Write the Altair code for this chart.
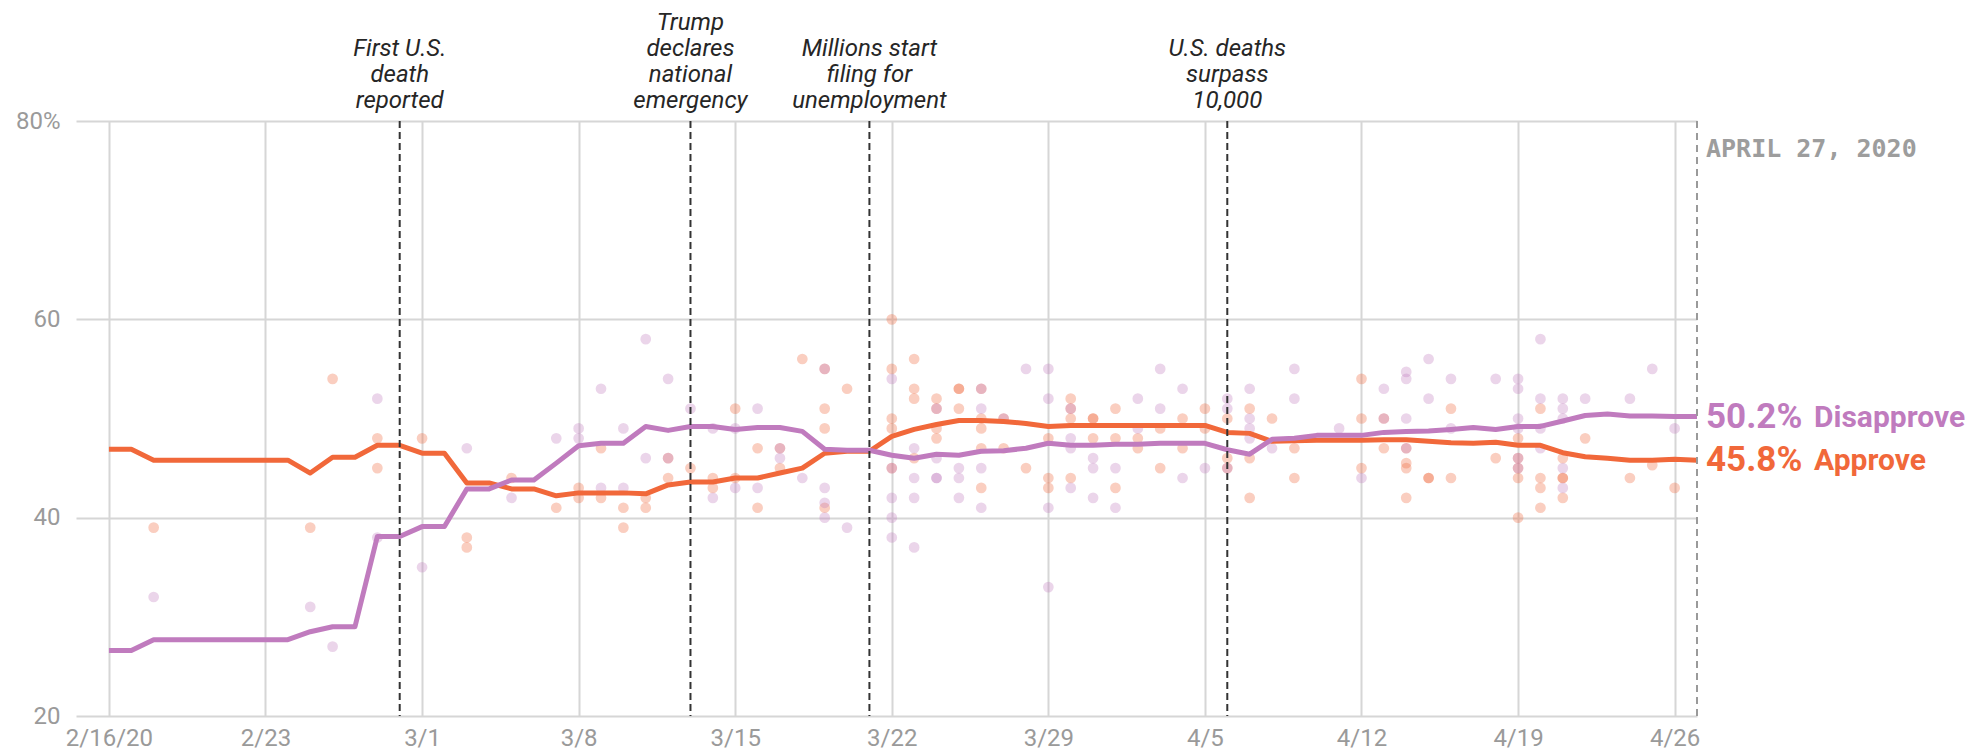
import altair as alt
import pandas as pd

# ---------------- data ----------------
line_dates = pd.date_range("2020-02-16", "2020-04-27").strftime("%Y-%m-%d").tolist()

approve_line = [
    46.9, 46.9, 45.8, 45.8, 45.8, 45.8, 45.8, 45.8, 45.8, 44.5, 46.1, 46.1, 47.3, 47.3,
    46.5, 46.5, 43.5, 43.5, 42.9, 42.9, 42.2, 42.5, 42.5, 42.5, 42.4, 43.3, 43.6, 43.6,
    44.0, 44.0, 44.5, 45.0, 46.5, 46.7, 46.7, 48.2, 48.9, 49.4, 49.8, 49.8, 49.7, 49.5,
    49.2, 49.3, 49.3,
    49.3, 49.3, 49.3, 49.3, 49.3, 48.6, 48.5, 47.7, 47.75, 47.8, 47.8, 47.8, 47.85, 47.85,
    47.7, 47.55, 47.5, 47.6, 47.3, 47.3, 46.55, 46.15, 46.0, 45.8, 45.8, 45.9, 45.8,
]
disapprove_line = [
    26.6, 26.6, 27.7, 27.7, 27.7, 27.7, 27.7, 27.7, 27.7, 28.5, 29.0, 29.0, 38.1, 38.1,
    39.1, 39.1, 42.9, 42.9, 43.8, 43.8, 45.5, 47.25, 47.5, 47.5, 49.2, 48.8, 49.2, 49.2,
    48.9, 49.1, 49.1, 48.7, 46.9, 46.8, 46.8, 46.3, 46.0, 46.4, 46.3, 46.7, 46.75, 47.0,
    47.5, 47.3, 47.3,
    47.4, 47.4, 47.5, 47.5, 47.5, 46.85, 46.4, 47.9, 48.0, 48.3, 48.3, 48.3, 48.6, 48.7,
    48.75, 48.9, 49.1, 48.9, 49.2, 49.2, 49.75, 50.3, 50.45, 50.25, 50.25, 50.2, 50.2,
]

approve_polls = {
    "2020-02-18": [39], "2020-02-25": [39], "2020-02-26": [54], "2020-02-28": [48, 45],
    "2020-03-01": [48], "2020-03-03": [38, 37], "2020-03-05": [44], "2020-03-07": [41],
    "2020-03-08": [43, 42], "2020-03-09": [47, 42], "2020-03-10": [41, 39],
    "2020-03-11": [42, 41], "2020-03-12": [46, 44], "2020-03-13": [45],
    "2020-03-14": [44, 43], "2020-03-15": [51, 44], "2020-03-16": [47, 41],
    "2020-03-17": [47, 45], "2020-03-18": [56], "2020-03-19": [55, 51, 49, 41],
    "2020-03-20": [53], "2020-03-22": [60, 55, 50, 49, 45], "2020-03-23": [56, 53, 52, 46],
    "2020-03-24": [52, 51, 49, 48], "2020-03-25": [53, 53, 51],
    "2020-03-26": [53, 50, 49, 47, 43], "2020-03-27": [50, 47], "2020-03-28": [45],
    "2020-03-29": [48, 44, 43], "2020-03-30": [52, 51, 50, 44], "2020-03-31": [50, 50, 48],
    "2020-04-01": [51, 48, 43], "2020-04-02": [48, 47], "2020-04-03": [49, 45],
    "2020-04-04": [50, 47], "2020-04-05": [51, 49], "2020-04-06": [50, 46, 45],
    "2020-04-07": [51, 46, 42], "2020-04-08": [50], "2020-04-09": [47, 44],
    "2020-04-12": [54, 50, 45], "2020-04-13": [50, 47], "2020-04-14": [47, 45.5, 45, 42],
    "2020-04-15": [44, 44], "2020-04-16": [51, 44], "2020-04-18": [46],
    "2020-04-19": [48, 46, 45, 44, 40], "2020-04-20": [51, 44, 43, 41],
    "2020-04-21": [46, 44, 44, 42], "2020-04-22": [48], "2020-04-24": [44],
    "2020-04-25": [45.3], "2020-04-26": [43],
}
disapprove_polls = {
    "2020-02-18": [32], "2020-02-25": [31], "2020-02-26": [27], "2020-02-28": [52, 38],
    "2020-03-01": [35], "2020-03-03": [47], "2020-03-05": [42], "2020-03-07": [48],
    "2020-03-08": [49, 48], "2020-03-09": [53, 43], "2020-03-10": [49, 43],
    "2020-03-11": [58, 46], "2020-03-12": [54, 46], "2020-03-13": [51],
    "2020-03-14": [49, 42], "2020-03-15": [49, 43], "2020-03-16": [51, 43],
    "2020-03-17": [47, 46], "2020-03-18": [44], "2020-03-19": [55, 43, 41.5, 40],
    "2020-03-20": [39], "2020-03-22": [54, 45, 42, 40, 38], "2020-03-23": [47, 44, 42, 37],
    "2020-03-24": [51, 46, 44, 44], "2020-03-25": [45, 44, 42],
    "2020-03-26": [53, 51, 45, 41], "2020-03-27": [50], "2020-03-28": [55],
    "2020-03-29": [55, 52, 41, 33], "2020-03-30": [51, 48, 47, 43],
    "2020-03-31": [46, 45, 42], "2020-04-01": [45, 41], "2020-04-02": [52, 49],
    "2020-04-03": [55, 51], "2020-04-04": [53, 44], "2020-04-05": [45],
    "2020-04-06": [52, 51, 45], "2020-04-07": [53, 50, 49, 48], "2020-04-08": [47],
    "2020-04-09": [55, 52], "2020-04-11": [49], "2020-04-12": [44], "2020-04-13": [53, 50],
    "2020-04-14": [54.7, 54, 50, 47], "2020-04-15": [56, 52], "2020-04-16": [54, 49],
    "2020-04-18": [54], "2020-04-19": [54, 53, 50, 49, 46, 45],
    "2020-04-20": [58, 52, 49, 47], "2020-04-21": [52, 51, 50, 45, 43],
    "2020-04-22": [52], "2020-04-24": [52], "2020-04-25": [55], "2020-04-26": [49],
}

event_dates = ["2020-02-29", "2020-03-13", "2020-03-21", "2020-04-06"]
event_labels = [
    ["First U.S.", "death", "reported"],
    ["Trump", "declares", "national", "emergency"],
    ["Millions start", "filing for", "unemployment"],
    ["U.S. deaths", "surpass", "10,000"],
]

end_date = "2020-04-27"
end_date_label = "APRIL 27, 2020"
series_names = ["Disapprove", "Approve"]
end_values = [50.2, 45.8]
end_value_labels = ["50.2%", "45.8%"]

x_tick_dates = ["2020-02-16", "2020-02-23", "2020-03-01", "2020-03-08", "2020-03-15",
                "2020-03-22", "2020-03-29", "2020-04-05", "2020-04-12", "2020-04-19",
                "2020-04-26"]
x_tick_labels = ["2/16/20", "2/23", "3/1", "3/8", "3/15", "3/22", "3/29", "4/5",
                 "4/12", "4/19", "4/26"]
y_tick_values = [20, 40, 60, 80]
y_tick_labels = ["20", "40", "60", "80%"]

ORANGE = "#f1683a"
PURPLE = "#c07bbe"

# ---------------- tables ----------------
lines_df = pd.DataFrame({
    "date": line_dates * 2,
    "value": approve_line + disapprove_line,
    "series": ["Approve"] * len(line_dates) + ["Disapprove"] * len(line_dates),
})
dots_rows = []
for d, vals in approve_polls.items():
    for v in vals:
        dots_rows.append({"date": d, "value": v, "series": "Approve"})
for d, vals in disapprove_polls.items():
    for v in vals:
        dots_rows.append({"date": d, "value": v, "series": "Disapprove"})
dots_df = pd.DataFrame(dots_rows)
events_df = pd.DataFrame({
    "date": event_dates,
    "label": ["\n".join(l) for l in event_labels],
    "nlines": [len(l) for l in event_labels],
})
end_df = pd.DataFrame({"date": [end_date], "label": [end_date_label]})
end_labels_df = pd.DataFrame({
    "date": [end_date] * 2,
    "series": series_names,
    "value": end_values,
    "vlabel": end_value_labels,
})

# ---------------- scales & axes ----------------
def utc_dt(s, hours=0, minutes=0):
    y, m, d = [int(p) for p in s.split("-")]
    return alt.DateTime(year=y, month=m, date=d, hours=hours, minutes=minutes, utc=True)

tick_ms = [int(pd.Timestamp(d, tz="UTC").value // 10**6) for d in x_tick_dates]
x_label_expr = "[" + ",".join("'%s'" % l for l in x_tick_labels) + "][indexof([" + \
    ",".join(str(t) for t in tick_ms) + "], time(datum.value))]"
y_label_expr = "[" + ",".join("'%s'" % l for l in y_tick_labels) + "][indexof([" + \
    ",".join(str(v) for v in y_tick_values) + "], datum.value)]"

X_SCALE = alt.Scale(type="utc", domain=[utc_dt("2020-02-14", 12, 40), utc_dt(end_date)], nice=False)
X_AXIS = alt.Axis(values=[utc_dt(d) for d in x_tick_dates], labelExpr=x_label_expr,
                  title=None, labelPadding=10, labelFlush=False, labelOverlap=False)
Y_SCALE = alt.Scale(domain=[20, 80], nice=False, zero=False)
Y_AXIS = alt.Axis(values=y_tick_values, labelExpr=y_label_expr, title=None, labelPadding=16)
COLOR = alt.Color("series:N", scale=alt.Scale(domain=["Approve", "Disapprove"],
                                             range=[ORANGE, PURPLE]), legend=None)

def X():
    return alt.X("date:T", scale=X_SCALE, axis=X_AXIS)

def Y():
    return alt.Y("value:Q", scale=Y_SCALE, axis=Y_AXIS)

# ---------------- layers ----------------
dots = alt.Chart(dots_df).mark_circle(size=115, opacity=0.32).encode(x=X(), y=Y(), color=COLOR)

approve = alt.Chart(lines_df).transform_filter(alt.datum.series == "Approve").mark_line(
    strokeWidth=5, strokeJoin="round").encode(x=X(), y=Y(), color=COLOR)
disapprove = alt.Chart(lines_df).transform_filter(alt.datum.series == "Disapprove").mark_line(
    strokeWidth=5, strokeJoin="round").encode(x=X(), y=Y(), color=COLOR)

event_rules = alt.Chart(events_df).mark_rule(color="#333333", strokeWidth=2,
                                             strokeDash=[7, 4]).encode(x=X())

LINE_H = 26
LAST_BASELINE = -13  # px relative to the top of the plot


def event_text_layer(n):
    return alt.Chart(events_df).transform_filter(alt.datum.nlines == n).mark_text(
        lineBreak="\n", align="center", baseline="alphabetic", font="Roboto",
        fontStyle="italic", fontSize=24, lineHeight=LINE_H, color="#262626",
    ).encode(x=X(), y=alt.value(LAST_BASELINE - (n - 1) * LINE_H), text="label:N")


event_text3 = event_text_layer(3)
event_text4 = event_text_layer(4)

end_rule = alt.Chart(end_df).mark_rule(color="#9a9a9a", strokeWidth=2,
                                       strokeDash=[7, 5]).encode(x=X())
end_text = alt.Chart(end_df).mark_text(
    align="left", baseline="alphabetic", dx=9, font="DejaVu Sans Mono", fontSize=25,
    fontWeight="bold", color="#9d9d9d").encode(x=X(), y=alt.value(36), text="label:N")

end_values_text = alt.Chart(end_labels_df).mark_text(
    align="left", baseline="middle", dx=9, font="Roboto", fontSize=35, fontWeight="bold"
).encode(x=X(), y=Y(), text="vlabel:N", color=COLOR)
end_names_text = alt.Chart(end_labels_df).mark_text(
    align="left", baseline="middle", dx=117, dy=1, font="Roboto", fontSize=30, fontWeight="bold"
).encode(x=X(), y=Y(), text="series:N", color=COLOR)

chart = alt.layer(
    dots, approve, disapprove, event_rules, event_text3, event_text4, end_rule, end_text,
    end_values_text, end_names_text
).properties(
    width=1621, height=595,
    autosize=alt.AutoSizeParams(type="none"),
    padding={"left": 68, "top": 113, "right": 272, "bottom": 36},
).configure_view(stroke=None).configure_axis(
    labelFont="Roboto", labelFontSize=24, labelColor="#9a9a9a",
    gridColor="#d6d6d6", gridWidth=2, domain=False, ticks=False,
)

chart.save("out.html", embed_options={"renderer": "svg", "actions": False})
